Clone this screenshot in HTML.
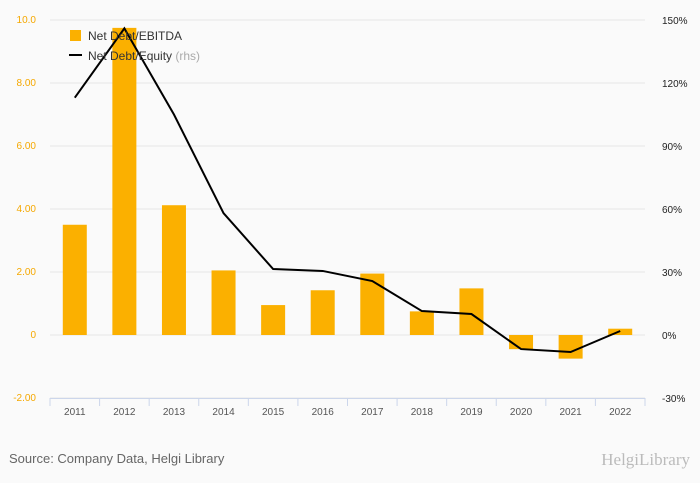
<!DOCTYPE html>
<html><head><meta charset="utf-8"><style>
body{margin:0;background:#fafafa;font-family:"Liberation Sans",sans-serif}
#wrap{position:relative;width:700px;height:483px;overflow:hidden;background:#fafafa}
</style></head><body>
<div id="wrap">
<svg id="chart" width="700" height="483"></svg>
</div>
<script>
const categories=["2011","2012","2013","2014","2015","2016","2017","2018","2019","2020","2021","2022"];
const debtEbitda=[3.5,9.75,4.12,2.05,0.95,1.42,1.95,0.75,1.48,-0.45,-0.75,0.2];
const debtEquity=[113,146,105,58,31.4,30.5,25.7,11.4,10,-6.7,-8.1,1.9];
const leftTicks=[-2,0,2,4,6,8,10];
const leftTickLabels=["-2.00","0","2.00","4.00","6.00","8.00","10.0"];
const rightTicks=[-30,0,30,60,90,120,150];
const rightTickLabels=["-30%","0%","30%","60%","90%","120%","150%"];

const NS="http://www.w3.org/2000/svg";
const svg=document.getElementById('chart');
const x0=50,x1=645,yTop=20,yBot=398;
const step=(x1-x0)/categories.length;
const xc=i=>x0+step*(i+0.5);
const yL=v=>yBot-(v-(-2))/12*(yBot-yTop);
const yR=v=>yBot-(v-(-30))/180*(yBot-yTop);
function mk(tag,attrs,parent){const e=document.createElementNS(NS,tag);for(const k in attrs)e.setAttribute(k,attrs[k]);(parent||svg).appendChild(e);return e;}

leftTicks.forEach((t,i)=>{
  const g=mk('line',{x1:x0,x2:x1,y1:yL(t),y2:yL(t),stroke:'#e6e6e6','stroke-width':1});
  
  
  const l=mk('text',{x:36,y:yL(t)+3,'text-anchor':'end','font-size':10,fill:'#f5a800'});
  l.textContent=leftTickLabels[i];
  
  
});
rightTicks.forEach((t,i)=>{
  const l=mk('text',{x:662,y:yR(t)+4,'font-size':10,fill:'#222'});
  l.textContent=rightTickLabels[i];
  
  
});
const ax=mk('line',{x1:x0,x2:x1,y1:yBot+0.5,y2:yBot+0.5,stroke:'#ccd6eb'});


categories.forEach((c,i)=>{
  const tk=mk('line',{x1:x0+step*i,x2:x0+step*i,y1:yBot,y2:yBot+8,stroke:'#ccd6eb'});
  
  
  const l=mk('text',{x:xc(i),y:415,'text-anchor':'middle','font-size':10,fill:'#555'});
  l.textContent=c;
  
  
  const v=debtEbitda[i];
  const b=mk('rect',{x:xc(i)-12,y:Math.min(yL(v),yL(0)),width:24,height:Math.abs(yL(v)-yL(0)),fill:'#fbb000'});
  
  
});
const tkEnd=mk('line',{x1:x1,x2:x1,y1:yBot,y2:yBot+8,stroke:'#ccd6eb'});


const pts=debtEquity.map((v,i)=>xc(i)+','+yR(v)).join(' ');
const line=mk('polyline',{points:pts,fill:'none',stroke:'#000','stroke-width':2});



const lg1=mk('rect',{x:70,y:30,width:11,height:11,fill:'#fbb000'});


const lt1=mk('text',{x:88,y:40,'font-size':12,fill:'#333'});
lt1.textContent='Net Debt/EBITDA';


const lg2=mk('line',{x1:69,x2:82,y1:55,y2:55,stroke:'#000','stroke-width':2});


const lt2=mk('text',{x:88,y:60,'font-size':12,fill:'#333'});
lt2.innerHTML='Net Debt/Equity <tspan fill="#aaa">(rhs)</tspan>';



const src=mk('text',{x:9,y:463,'font-size':13,fill:'#666'});
src.textContent='Source: Company Data, Helgi Library';


const brand=mk('text',{x:690,y:465,'text-anchor':'end','font-size':17,fill:'#bbb','font-family':'Liberation Serif, serif'});
brand.textContent='HelgiLibrary';


</script>
</body></html>
